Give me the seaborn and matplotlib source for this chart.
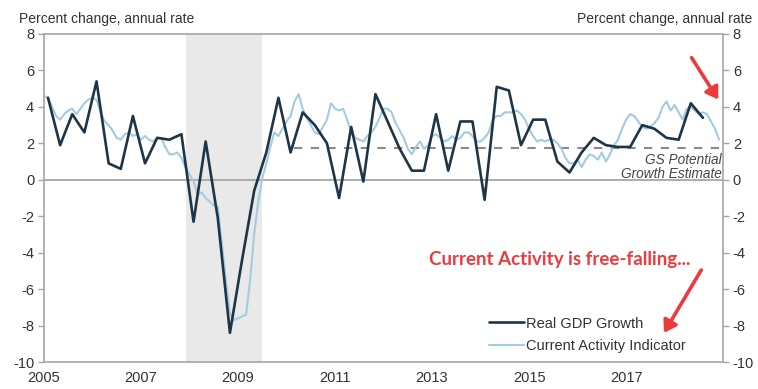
import numpy as np
import pandas as pd
import matplotlib
matplotlib.use("Agg")
import matplotlib.pyplot as plt
import seaborn as sns

# ---------------- data ----------------
# Real GDP growth, quarterly (annualised %), 2005Q1 .. 2018Q3
gdp_values = [
    4.5, 1.9, 3.6, 2.6,
    5.4, 0.9, 0.6, 3.5,
    0.9, 2.3, 2.2, 2.5,
    -2.3, 2.1, -2.1, -8.4,
    -4.4, -0.6, 1.5, 4.5,
    1.5, 3.7, 3.0, 2.0,
    -1.0, 2.9, -0.1, 4.7,
    3.2, 1.7, 0.5, 0.5,
    3.6, 0.5, 3.2, 3.2,
    -1.1, 5.1, 4.9, 1.9,
    3.3, 3.3, 1.0, 0.4,
    1.5, 2.3, 1.9, 1.8,
    1.8, 3.0, 2.8, 2.3,
    2.2, 4.2, 3.4,
]
# Current Activity Indicator, monthly, 2005-01 .. 2018-12
cai_values = [
    4.6, 4.5, 4.0, 3.5, 3.3, 3.6, 3.8, 3.9, 3.6, 3.9, 4.2, 4.4,
    4.5, 4.4, 3.7, 3.2, 3.0, 2.7, 2.3, 2.2, 2.5, 2.6, 2.4, 2.5,
    2.2, 2.4, 2.2, 2.1, 2.3, 2.3, 1.8, 1.4, 1.4, 1.5, 1.2, 0.7,
    0.3, -0.1, -0.8, -0.7, -1.0, -1.2, -1.4, -1.5, -3.5, -5.5, -7.3, -7.7,
    -7.6, -7.5, -7.4, -5.5, -3.0, -1.2, 0.1, 0.9, 1.8, 2.6, 2.4, 2.8,
    3.2, 3.5, 4.3, 4.7, 3.9, 3.4, 3.0, 2.6, 2.5, 2.9, 3.3, 4.2,
    3.9, 3.8, 3.9, 3.3, 2.6, 2.3, 2.2, 2.1, 2.4, 2.6, 2.9, 3.4,
    3.9, 3.9, 3.7, 3.1, 2.7, 2.3, 1.7, 1.4, 1.8, 2.1, 1.7, 1.9,
    2.4, 2.5, 2.3, 2.1, 2.2, 2.4, 2.2, 2.3, 2.6, 2.6, 2.4, 2.1,
    2.1, 2.3, 2.6, 3.3, 3.5, 3.5, 3.7, 3.7, 3.7, 3.8, 3.6, 3.3,
    2.8, 2.4, 2.1, 2.2, 2.1, 2.2, 2.2, 2.0, 1.7, 1.2, 0.9, 0.9,
    1.1, 0.7, 1.1, 1.4, 1.3, 1.1, 1.5, 1.0, 1.4, 1.9, 2.2, 2.8,
    3.3, 3.6, 3.5, 3.2, 2.9, 2.8, 2.9, 3.1, 3.4, 4.0, 4.3, 3.8,
    4.1, 3.7, 3.3, 3.9, 4.0, 3.8, 3.6, 3.7, 3.6, 3.2, 2.8, 2.2,
]
potential_growth = 1.75
potential_start = 2010.15
recession = (2007.92, 2009.5)
year_ticks = [2005, 2007, 2009, 2011, 2013, 2015, 2017]
y_ticks = [8, 6, 4, 2, 0, -2, -4, -6, -8, -10]

# ---------------- frames ----------------
gdp_x = [2005 + i // 4 + (3 * (i % 4) + 1) / 12 for i in range(len(gdp_values))]
cai_x = [2005 + i / 12 for i in range(len(cai_values))]
gdp_df = pd.DataFrame({"t": gdp_x, "v": gdp_values})
cai_df = pd.DataFrame({"t": cai_x, "v": cai_values})

sns.set_style("white")
plt.rcParams["font.family"] = ["Liberation Sans", "DejaVu Sans"]

DARK = "#1d3547"
LIGHT = "#a3cce0"
GRID = "#a6a6a6"
TXT = "#333333"
RED = "#ec3a3f"

fig = plt.figure(figsize=(7.58, 3.89), dpi=100)
ax = fig.add_axes([0.058, 0.0694, 0.896, 0.8432])

ax.axvspan(*recession, color="#e9e9e9", zorder=0, lw=0)
ax.axhline(0, color=GRID, lw=1.3, zorder=1)
ax.plot([potential_start, 2019], [potential_growth, potential_growth],
        ls=(0, (4, 4)), color="#8a8a8a", lw=1.5, zorder=1)

sns.lineplot(data=cai_df, x="t", y="v", ax=ax, color=LIGHT, lw=1.5,
             label="Current Activity Indicator", zorder=2)
sns.lineplot(data=gdp_df, x="t", y="v", ax=ax, color=DARK, lw=1.9,
             label="Real GDP Growth", zorder=3)

ax.set_xlim(2005, 2019)
ax.set_ylim(-10, 8)
ax.set_xlabel("")
ax.set_ylabel("")
ax.set_xticks(year_ticks)
ax.set_xticklabels([str(y) for y in year_ticks])
ax.set_yticks(y_ticks)
ax.set_yticklabels([str(v) for v in y_ticks])
ax.tick_params(axis="x", direction="inout", length=5, width=1, color=GRID,
               labelsize=10.5, labelcolor=TXT, pad=4)
ax.tick_params(axis="y", direction="out", length=4, width=1, color=GRID,
               labelsize=10.5, labelcolor=TXT, pad=3)
for sp in ax.spines.values():
    sp.set_color(GRID)
    sp.set_linewidth(1.2)
    sp.set_visible(True)

ax2 = ax.twinx()
ax2.set_ylim(-10, 8)
ax2.set_yticks(y_ticks)
ax2.set_yticklabels([str(v) for v in y_ticks])
ax2.tick_params(axis="y", direction="out", length=4, width=1, color=GRID,
                labelsize=10.5, labelcolor=TXT, pad=3)
for sp in ax2.spines.values():
    sp.set_visible(False)

handles, labels = ax.get_legend_handles_labels()
order = [labels.index("Real GDP Growth"), labels.index("Current Activity Indicator")]
leg = ax.legend([handles[i] for i in order], [labels[i] for i in order],
                loc="lower left", bbox_to_anchor=(0.643, 0.0), frameon=False,
                fontsize=10.5, handlelength=2.4, handletextpad=0.1,
                labelspacing=0.6, borderaxespad=0.2)
for t in leg.get_texts():
    t.set_color(TXT)

ax.text(2018.97, 0.72, "GS Potential\nGrowth Estimate", ha="right", va="center",
        style="italic", fontsize=9.8, color="#444444", linespacing=1.0)

ax.text(2015.64, -4.4, "Current Activity is free-falling...", ha="center", va="center",
        fontsize=13.5, fontweight="bold", color=RED, family=["Lato", "DejaVu Sans"])

arrow_kw = dict(arrowstyle="-|>,head_length=0.7,head_width=0.45", color=RED,
                lw=2.6, shrinkA=0, shrinkB=0)
ax.annotate("", xy=(2018.9, 4.4), xytext=(2018.35, 6.7), arrowprops=arrow_kw,
            annotation_clip=False)
ax.annotate("", xy=(2017.78, -8.4), xytext=(2018.55, -4.95), arrowprops=arrow_kw)

fig.text(0.025, 0.952, "Percent change, annual rate", fontsize=10, color=TXT,
         ha="left", va="center")
fig.text(0.993, 0.952, "Percent change, annual rate", fontsize=10, color=TXT,
         ha="right", va="center")

fig.savefig("out.png", dpi=100)
